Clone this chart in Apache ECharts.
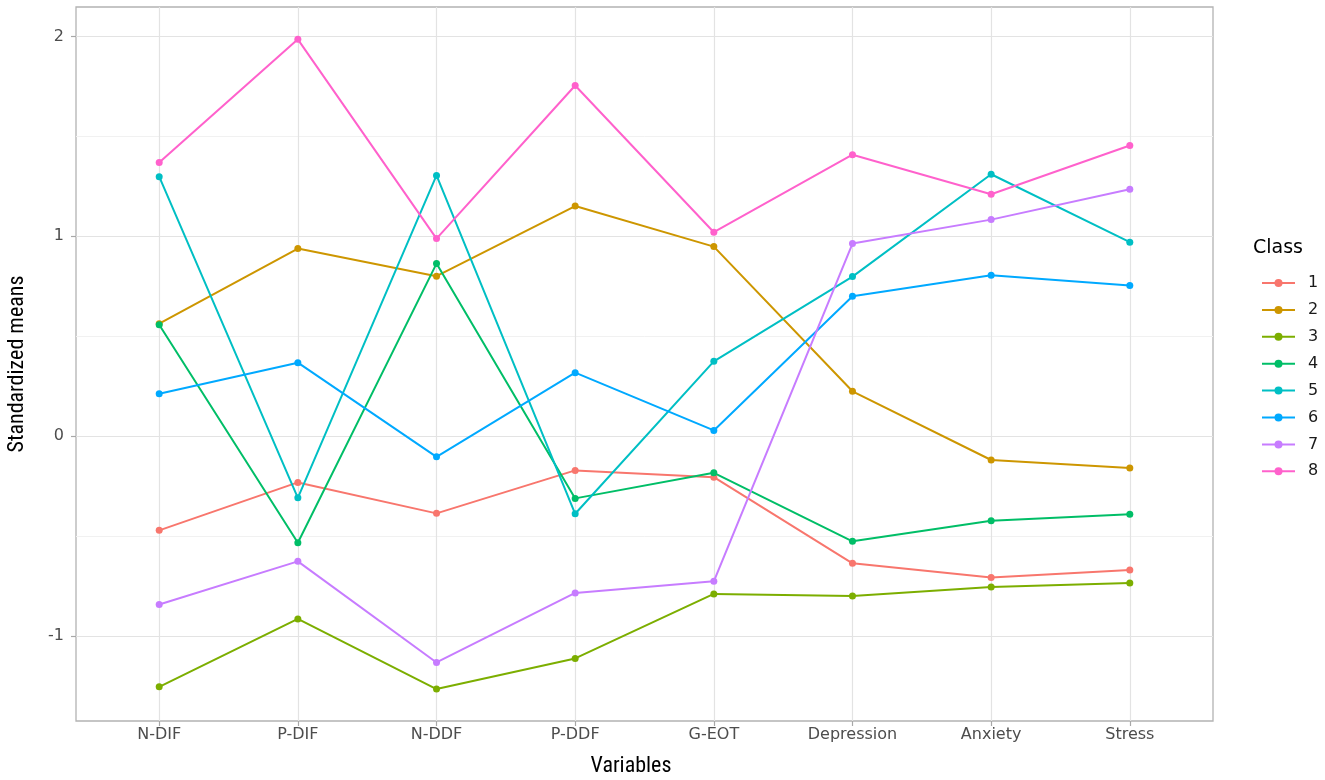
<!DOCTYPE html>
<html>
<head>
<meta charset="utf-8">
<script src="https://cdn.jsdelivr.net/npm/echarts@6/dist/echarts.min.js"></script>
<style>
html,body{margin:0;padding:0;background:#fff;}
#chart{width:1325px;height:780px;}
</style>
</head>
<body>
<div id="chart"></div>
<script>
var categories = ['N-DIF','P-DIF','N-DDF','P-DDF','G-EOT','Depression','Anxiety','Stress'];
var classNames = ['1','2','3','4','5','6','7','8'];
var class1 = [-0.472,-0.232,-0.387,-0.172,-0.206,-0.637,-0.708,-0.670];
var class2 = [0.562,0.938,0.800,1.151,0.948,0.224,-0.120,-0.160];
var class3 = [-1.255,-0.915,-1.266,-1.113,-0.790,-0.800,-0.755,-0.735];
var class4 = [0.557,-0.534,0.863,-0.312,-0.184,-0.527,-0.424,-0.392];
var class5 = [1.298,-0.309,1.304,-0.389,0.374,0.798,1.310,0.970];
var class6 = [0.212,0.367,-0.104,0.317,0.028,0.700,0.805,0.753];
var class7 = [-0.843,-0.627,-1.133,-0.785,-0.727,0.963,1.083,1.235];
var class8 = [1.369,1.985,0.988,1.754,1.020,1.408,1.210,1.454];
var yTicks = [-1,0,1,2];
var yMinorTicks = [-0.5,0.5,1.5];
var xTicks = [0,1,2,3,4,5,6,7];

var colors = ['#F8766D','#CD9600','#7CAE00','#00BE67','#00BFC4','#00A9FF','#C77CFF','#FF61CC'];
var allClasses = [class1,class2,class3,class4,class5,class6,class7,class8];

var yMin = -1.426, yMax = 2.147;
var tickFont = 'DejaVu Sans, sans-serif';
var titleFont = '"Liberation Sans Narrow", "Roboto Condensed", "Liberation Sans", sans-serif';

var chart = echarts.init(document.getElementById('chart'), null, {renderer:'canvas'});

var series = allClasses.map(function(vals, k){
  return {
    name: classNames[k],
    type: 'line',
    data: vals.map(function(v,i){ return [i, v]; }),
    symbol: 'circle',
    symbolSize: 7,
    lineStyle: {width: 2, color: colors[k]},
    itemStyle: {color: colors[k]},
    emphasis: {disabled: true},
    animation: false
  };
});

chart.setOption({
  backgroundColor: '#ffffff',
  animation: false,
  grid: {
    left: 76, right: 112, top: 7, bottom: 59,
    show: true, borderColor: '#b3b3b3', borderWidth: 1.3, backgroundColor: 'transparent'
  },
  xAxis: [{
    type: 'value', min: -0.6, max: 7.6,
    axisLine: {show: false, onZero: false},
    axisTick: {show: true, length: 5, lineStyle: {color: '#a8a8a8', width: 1.2}, customValues: xTicks},
    axisLabel: {
      customValues: xTicks, margin: 6, color: '#4d4d4d', fontSize: 16, fontFamily: tickFont,
      formatter: function(v){ return categories[Math.round(v)]; }
    },
    splitLine: {show: true, lineStyle: {color: '#e3e3e3', width: 1.2}}
  }],
  yAxis: [{
    type: 'value', min: yMin, max: yMax,
    axisLine: {show: false, onZero: false},
    axisTick: {show: true, length: 5, lineStyle: {color: '#a8a8a8', width: 1.2}, customValues: yTicks},
    axisLabel: {customValues: yTicks, margin: 12, color: '#4d4d4d', fontSize: 16, fontFamily: tickFont},
    splitLine: {show: true, lineStyle: {color: '#e3e3e3', width: 1.2}}
  },{
    type: 'value', min: yMin, max: yMax,
    axisLine: {show: false, onZero: false},
    axisTick: {show: false, customValues: yMinorTicks},
    axisLabel: {show: false, customValues: yMinorTicks},
    splitLine: {show: true, lineStyle: {color: '#f1f1f1', width: 1}}
  }],
  legend: {
    orient: 'vertical',
    left: 1256, top: 270,
    itemWidth: 33, itemHeight: 10, itemGap: 10.9,
    textStyle: {fontSize: 16, color: '#1a1a1a', fontFamily: tickFont, padding: [0,0,0,8]},
    data: classNames
  },
  graphic: [
    {type: 'text', left: 1253, top: 239, style: {text: 'Class', font: '19px DejaVu Sans', fill: '#000'}},
    {type: 'text', x: 631, y: 766, style: {text: 'Variables', font: '22px ' + titleFont, fill: '#000', textAlign: 'center', textVerticalAlign: 'middle'}},
    {type: 'text', x: 17, y: 364, rotation: Math.PI/2, style: {text: 'Standardized means', font: '22px ' + titleFont, fill: '#000', textAlign: 'center', textVerticalAlign: 'middle'}}
  ],
  series: series
});
</script>
</body>
</html>
